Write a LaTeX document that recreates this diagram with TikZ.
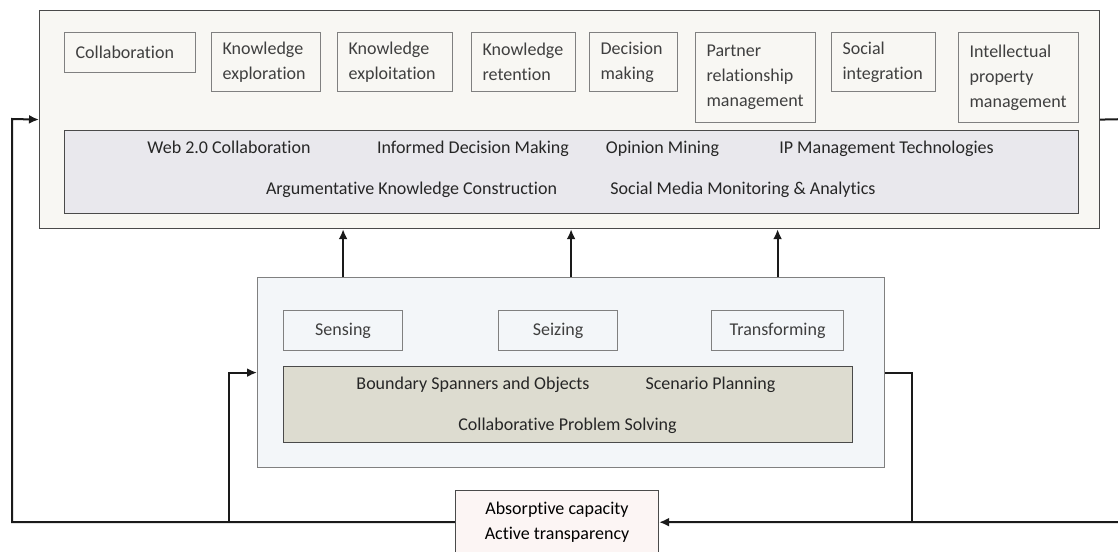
\documentclass[tikz,border=0pt]{standalone}
\usepackage{fontspec}
\setmainfont{Carlito}[Ligatures=CommonOff]
\usepackage{tikz}
\usetikzlibrary{arrows.meta, positioning}
\definecolor{outerFill}{HTML}{F8F7F3}
\definecolor{outerLine}{HTML}{4A4A4A}
\definecolor{itemLine}{HTML}{808080}
\definecolor{itemText}{HTML}{3F3F3F}
\definecolor{techFill}{HTML}{E9E8ED}
\definecolor{midFill}{HTML}{F3F6F9}
\definecolor{greenFill}{HTML}{DDDCD0}
\definecolor{absorbFill}{HTML}{FCF5F4}
\definecolor{linkLine}{HTML}{1A1A1A}
\tikzset{%
>={Latex[width=4.5pt,length=5pt]},
% Specifications for style of nodes:
base/.style = {draw, line width=0.6pt, inner sep=0pt, text centered},
panel/.style = {base, anchor=north west, draw=outerLine},
item/.style = {base, anchor=north west, draw=itemLine, fill=outerFill, text=itemText, align=left, inner xsep=5.5pt, text width=#1},
step box/.style = {base, anchor=north west, draw=itemLine, fill=midFill, text=itemText, minimum height=20pt},
label/.style = {anchor=base, inner sep=0pt, text=black!85},
link/.style = {line width=1pt, draw=linkLine},
}

\begin{document}
\begin{tikzpicture}[
        x=0.5pt, y=-0.5pt,
        every node/.style={font=\fontsize{9}{12.5}\selectfont},
    ]
    \path[use as bounding box, clip] (0,0) rectangle (1118,551);
    % Specification of nodes (position, etc.)
    \node (outer) [panel, fill=outerFill, minimum width=530pt, minimum height=109pt] at (39,10) {};
    \node (collab) [item=54.5pt, minimum height=20pt] at (64,32) {Collaboration};
    \node (kExplore) [item=43.5pt, minimum height=29.5pt] at (211,32) {Knowledge\\exploration};
    \node (kExploit) [item=46.5pt, minimum height=29.5pt] at (337,32) {Knowledge\\exploitation};
    \node (kRetain) [item=41pt, minimum height=29.5pt] at (471,32) {Knowledge\\retention};
    \node (decision) [item=33pt, minimum height=29.5pt] at (589,32) {Decision\\making};
    \node (partner) [item=49pt, minimum height=45pt] at (695,32) {Partner\\relationship\\management};
    \node (social) [item=41pt, minimum height=29.5pt] at (831,32) {Social\\integration};
    \node (ipm) [item=49pt, minimum height=45pt] at (958,32) {Intellectual\\property\\management};

    \node (techBox) [panel, fill=techFill, minimum width=507pt, minimum height=41.5pt] at (64,130) {};
    \node (web) [label] at (229,154) {Web 2.0 Collaboration};
    \node (informed) [label] at (473,154) {Informed Decision Making};
    \node (opinion) [label] at (662.5,154) {Opinion Mining};
    \node (ipTech) [label] at (886.5,154) {IP Management Technologies};
    \node (argue) [label] at (411.5,194) {Argumentative Knowledge Construction};
    \node (smma) [label] at (743,194) {Social Media Monitoring \& Analytics};

    \node (mid) [panel, draw=itemLine, fill=midFill, minimum width=313.5pt, minimum height=95pt] at (257,277) {};
    \node (sensing) [step box, minimum width=59.5pt] at (283,310) {Sensing};
    \node (seizing) [step box, minimum width=59.5pt] at (498,310) {Seizing};
    \node (transform) [step box, minimum width=66pt] at (711,310) {Transforming};
    \node (greenBox) [panel, fill=greenFill, minimum width=284.5pt, minimum height=38pt] at (283,366) {};
    \node (boundary) [label] at (473,389.5) {Boundary Spanners and Objects};
    \node (scenario) [label] at (710.5,389.5) {Scenario Planning};
    \node (cps) [label] at (567.5,430) {Collaborative Problem Solving};

    \node (absorb) [base, anchor=north, draw=outerLine, fill=absorbFill, align=center, minimum width=101.5pt, minimum height=31.6pt] at (557,490) {Absorptive capacity\\Active transparency};

    \coordinate (leftTurn) at (12,119);
    \coordinate (midTurn) at (229,521.5);
    \coordinate (midRight) at (912,521.5);
    \coordinate (rightTurn) at (1130,119);

    \draw [link, ->] (sensing |- mid.north) -- (sensing |- outer.south);
    \draw [link, ->] (mid.north) -- (mid.north |- outer.south);
    \draw [link, ->] (transform |- mid.north) -- (transform |- outer.south);
    \draw [link, ->] (absorb.west) -| (leftTurn) -- (outer.west);
    \draw [link, ->] (midTurn) |- (mid.west);
    \draw [link] (mid.east) -| (midRight);
    \draw [link, ->] (outer.east) -- (rightTurn) |- (absorb.east);
\end{tikzpicture}
\end{document}
